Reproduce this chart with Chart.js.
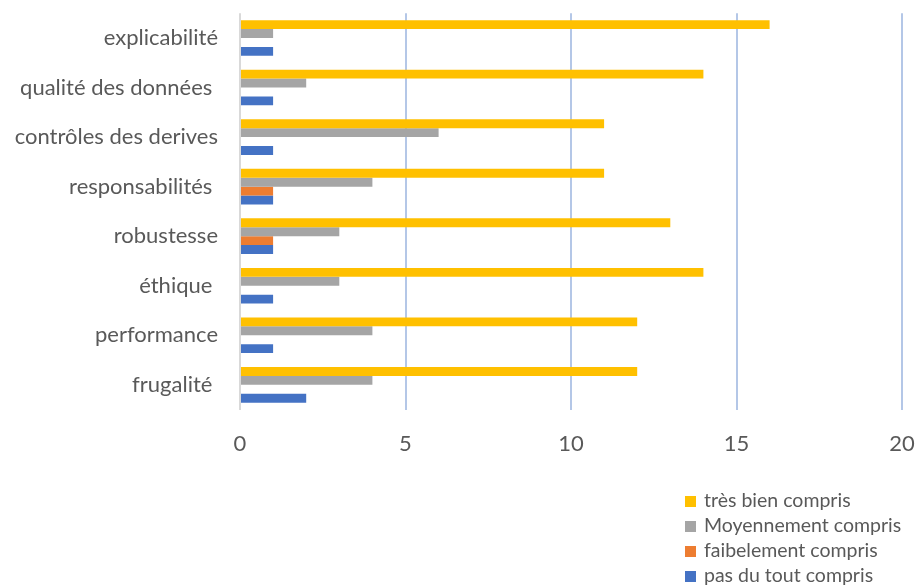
<!DOCTYPE html>
<html>
<head>
<meta charset="utf-8">
<script src="https://cdn.jsdelivr.net/npm/chart.js@4"></script>
<style>
  body { margin: 0; background: #fff; }
  #wrap { position: relative; width: 917px; height: 586px; }
  #legende { position: absolute; left: 685px; top: 487px; font-family: Lato, sans-serif; font-size: 19.5px; color: #595959; }
  #legende div { height: 25px; line-height: 25px; white-space: nowrap; }
  #legende span { display: inline-block; width: 11px; height: 11px; margin-right: 8px; vertical-align: 0px; }
</style>
</head>
<body>
<div id="wrap">
  <canvas id="canvas" width="917" height="586"></canvas>
  <div id="legende"></div>
</div>
<script>
"use strict"

const categories = ['explicabilité', 'qualité des données ', 'contrôles des derives', 'responsabilités ',
                    'robustesse', 'éthique ', 'performance', 'frugalité '];
const series = ['très bien compris', 'Moyennement compris', 'faibelement compris', 'pas du tout compris'];
const tresBien = [16, 14, 11, 11, 13, 14, 12, 12];
const moyen = [1, 2, 6, 4, 3, 3, 4, 4];
const faible = [0, 0, 0, 1, 1, 0, 0, 0];
const pasDuTout = [1, 1, 1, 1, 1, 1, 1, 2];
const xTicks = [0, 5, 10, 15, 20];
const couleurs = ['#FFC000', '#A5A5A5', '#ED7D31', '#4472C4'];

function creaGrafico(){
    let ctx = document.getElementById('canvas').getContext('2d');
    let valori = [tresBien, moyen, faible, pasDuTout];
    let myChart = new Chart(ctx, {
        type: 'bar',
        data: {
            labels: categories,
            datasets: series.map((s, i) => ({
                label: s,
                data: valori[i],
                backgroundColor: couleurs[i],
                borderWidth: 0,
                categoryPercentage: 0.72,
                barPercentage: 1
            }))
        },
        options: {
            indexAxis: 'y',
            responsive: false,
            animation: false,
            layout: { padding: { left: 0, right: 15, top: 11, bottom: 129 } },
            plugins: { legend: { display: false }, tooltip: { enabled: false } },
            scales: {
                x: {
                    min: 0, max: 20,
                    afterBuildTicks: (sc) => { sc.ticks = xTicks.map(v => ({ value: v })); },
                    border: { display: false },
                    grid: {
                        drawTicks: true,
                        tickLength: 21,
                        tickColor: 'rgba(0,0,0,0)',
                        lineWidth: 2,
                        color: (c) => c.tick && c.tick.value === 0 ? '#D9D9D9' : '#B4C7E7'
                    },
                    ticks: { padding: 0, color: '#595959', font: { family: 'Lato', size: 22 } }
                },
                y: {
                    afterFit: (sc) => { sc.width = 240; },
                    border: { display: false },
                    grid: { drawOnChartArea: false, drawTicks: true, tickLength: 22, tickColor: 'rgba(0,0,0,0)' },
                    ticks: { padding: 0, color: '#595959', font: { family: 'Lato', size: 22 } }
                }
            }
        }
    });

    let leg = document.getElementById('legende');
    series.forEach((s, i) => {
        let d = document.createElement('div');
        d.innerHTML = '<span style="background:' + couleurs[i] + '"></span>' + s;
        leg.appendChild(d);
    });
}

creaGrafico();
</script>
</body>
</html>
